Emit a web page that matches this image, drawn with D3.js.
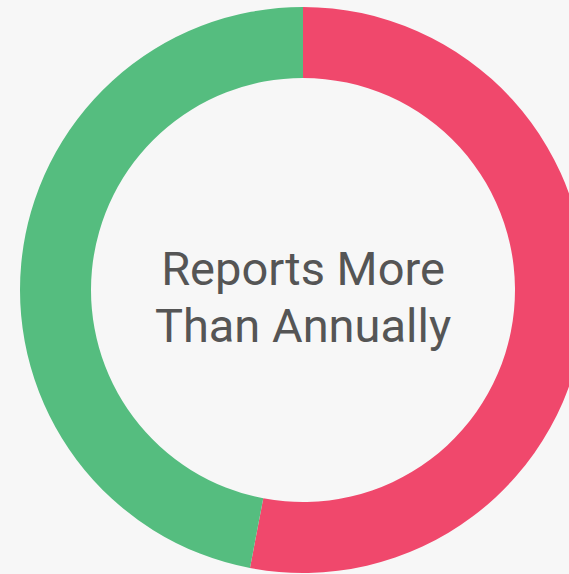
<!DOCTYPE html>
<html><head><meta charset="utf-8">
<script src="https://cdn.jsdelivr.net/npm/d3@7"></script>
<style>html,body{margin:0;padding:0;background:#f7f7f7;overflow:hidden;}</style>
</head><body>
<svg id="c" width="569" height="574"></svg>
<script>
const categories = ["Yes", "No"];
const values = [53, 47];
const colors = ["#f0486c", "#55bd7f"];
const titleLines = ["Reports More", "Than Annually"];

const svg = d3.select("#c");
const cx = 303, cy = 290, outerR = 283, innerR = 212;
const g = svg.append("g").attr("transform", `translate(${cx},${cy})`);
const pie = d3.pie().sort(null).value(d => d.v);
const arc = d3.arc().innerRadius(innerR).outerRadius(outerR);
const data = categories.map((c, i) => ({c, v: values[i], col: colors[i]}));
g.selectAll("path").data(pie(data)).join("path")
  .attr("d", arc).attr("fill", d => d.data.col);
g.selectAll("text").data(titleLines).join("text")
  .attr("x", 0).attr("y", (d, i) => -5 + i * 57)
  .attr("text-anchor", "middle")
  .attr("font-family", "Roboto")
  .attr("font-size", 47)
  .attr("fill", "#555555")
  .text(d => d);
</script>
</body></html>
